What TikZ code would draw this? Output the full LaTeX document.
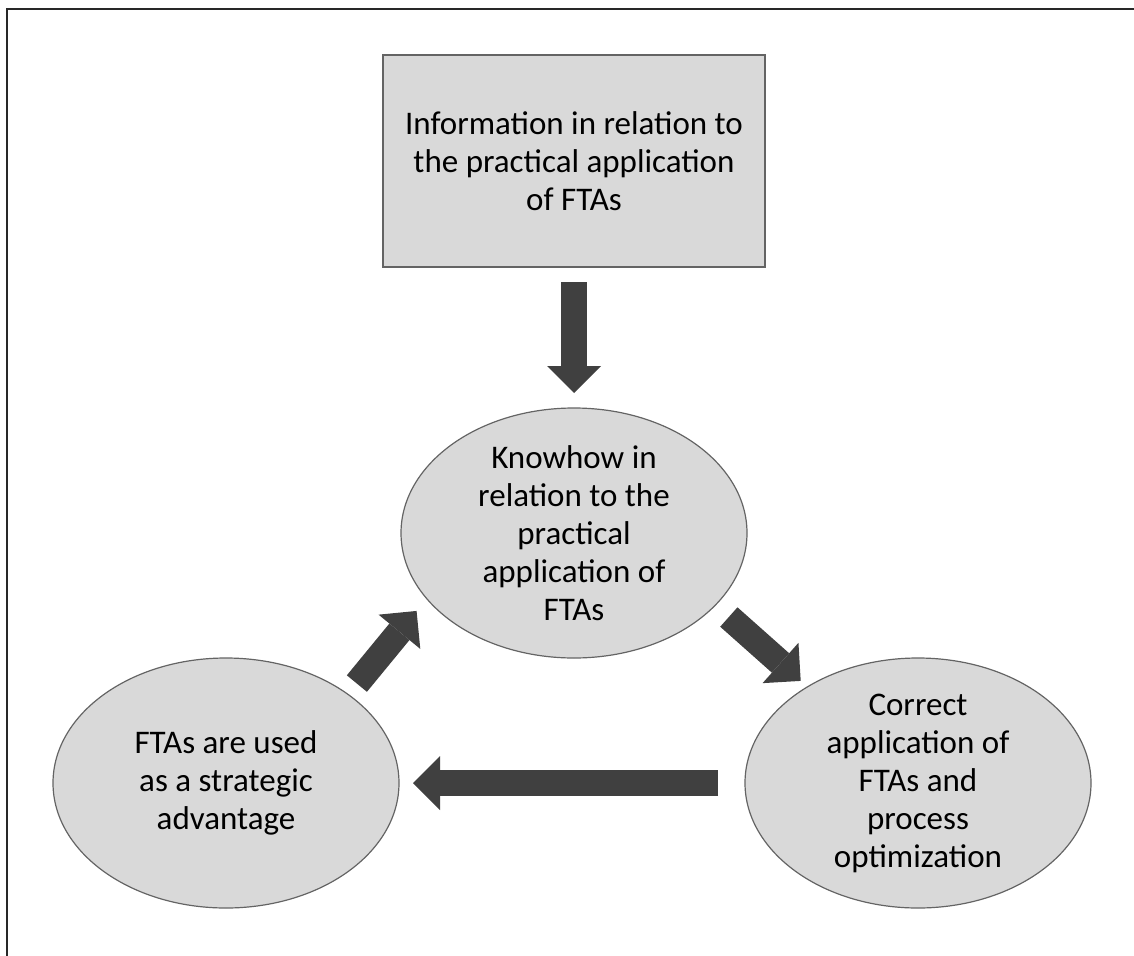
\documentclass[tikz,border=0pt]{standalone}
\usepackage{fontspec}
\setmainfont{Carlito}
\usepackage{tikz}
\usetikzlibrary{arrows.meta,shapes.geometric}
\definecolor{PanelGray}{RGB}{217,217,217}
\definecolor{EdgeGray}{RGB}{100,100,100}
\definecolor{ArrowGray}{RGB}{64,64,64}
\definecolor{FrameGray}{RGB}{40,40,40}

\begin{document}
\begin{tikzpicture}[x=1pt,y=-1pt,
    infobox/.style={draw=EdgeGray, line width=1.6pt, fill=PanelGray, minimum width=382pt,
      minimum height=212pt, inner sep=0pt, outer sep=0pt, align=center,
      font=\fontsize{33}{38}\selectfont},
    stage/.style={ellipse, draw=EdgeGray, line width=1.2pt, fill=PanelGray, minimum width=346pt,
      minimum height=250pt, inner xsep=0pt, inner ysep=-14pt, outer sep=0pt, align=center,
      font=\fontsize{33}{38}\selectfont},
    bigarrow/.style={draw=ArrowGray, line width=26pt,
      -{Triangle[length=27pt,width=54pt,line width=0pt]}}]
        \useasboundingbox (0,0) rectangle (1134,955);
        \draw[FrameGray, line width=2.5pt] (7,980) |- (1160,9);
        % boxes
        \node[infobox] (info) at (574,161) {Information in relation to\\the practical application\\of FTAs};
        \node[stage] (know) at (574,533) {Knowhow in\\relation to the\\practical\\application of\\FTAs};
        \node[stage] (adv) at (226,783) {FTAs are used\\as a strategic\\advantage};
        \node[stage] (apply) at (918,783) {Correct\\application of\\FTAs and\\process\\optimization};
        % arrows
        \draw[bigarrow, shorten <=15pt, shorten >=15pt] (info.south) -- (know.north);
        \draw[bigarrow, shorten <=18pt, shorten >=9pt] (know.333.5) -- (apply.139.9);
        \draw[bigarrow, shorten <=27pt, shorten >=14pt] (apply.west) -- (adv.east);
        \draw[bigarrow, shorten <=14pt, shorten >=16pt] (adv.36.8) -- (know.204.5);
      \end{tikzpicture}
\end{document}
